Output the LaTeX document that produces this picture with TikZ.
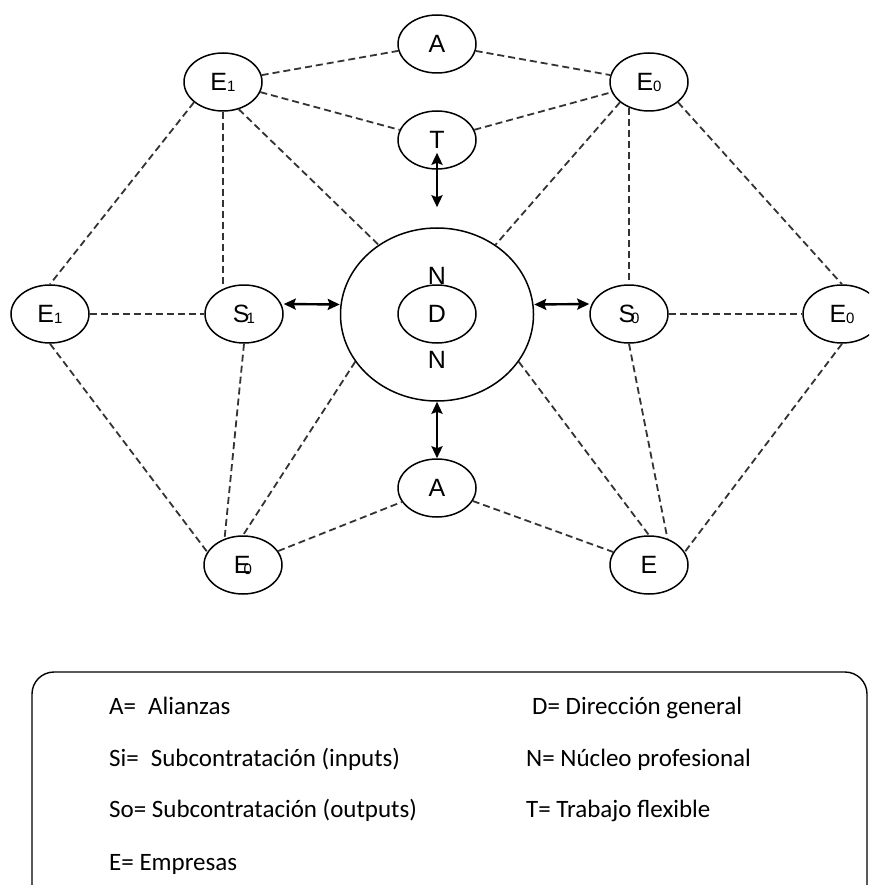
\documentclass[tikz,border=0pt]{standalone}
\usepackage{fontspec}
\setmainfont{Liberation Sans}
\newfontfamily\legendfont{Carlito}
\usetikzlibrary{shapes.geometric,arrows.meta}

% small index digit set on the baseline, pulled against its letter
\newcommand\lowidx[2][0pt]{\kern#1{\fontsize{15}{15}\selectfont\raisebox{-1pt}{#2}}}

\begin{document}
\begin{tikzpicture}[x=1pt,y=-1pt,
  bubble/.style={draw, ellipse, line width=1.5pt, minimum width=78pt,
    minimum height=58pt, inner sep=0pt, font=\fontsize{25}{25}\selectfont},
  label/.style={inner sep=0pt, font=\fontsize{25}{25}\selectfont},
  link/.style={line width=1.8pt, black!80, dash pattern=on 7pt off 4pt},
  tip/.tip={Stealth[length=12pt,width=11pt,inset=2pt]},
  arr/.style={line width=2.4pt, tip-tip},
  key/.style={anchor=base west, inner sep=0pt,
    font=\legendfont\fontsize{25}{25}\selectfont}
]
\useasboundingbox (0,0) rectangle (869,885);
\clip (0,0) rectangle (869,885);

% nodes of the network
\node[bubble] (At)  at (437,44)  {A};
\node[bubble] (E1t) at (223,82)  {E\lowidx{1}};
\node[bubble] (E0t) at (649,82)  {E\lowidx{0}};
\node[bubble] (T)   at (437,140) {T};
\node[bubble] (E1l) at (50,314)  {E\lowidx{1}};
\node[bubble] (S1)  at (244,314) {S\lowidx[-3pt]{1}};
\node[draw, ellipse, line width=1.5pt, minimum width=193pt,
      minimum height=173pt, inner sep=0pt] (circ) at (437,314.5) {};
\node[bubble] (D)   at (437,314) {D};
\node[label]  (Nt)  at (437,275.5) {N};
\node[label]  (Nb)  at (437,359.5) {N};
\node[bubble] (S0)  at (629,314) {S\lowidx[-4pt]{0}};
\node[bubble] (E0r) at (842,314) {E\lowidx{0}};
\node[bubble] (Ab)  at (437,488) {A};
\node[bubble] (E0b) at (243,565) {E\lowidx[-7pt]{0}};
\node[bubble] (Eb)  at (649,565) {E};

% dashed relations
\draw[link] (E1t) -- (At);
\draw[link] (E1t) -- (T);
\draw[link] (At) -- (E0t);
\draw[link] (T) -- (E0t);
\draw[link] (E1t.215) -- (E1l.north);
\draw[link] (E1t.south) -- (E1t.south |- S1.125);
\draw[link] (E1t.-60) -- (circ.130);
\draw[link] (E0t.215) -- (circ.50);
\draw[link] (S0.north |- E0t.235) -- (S0.north);
\draw[link] (E0t.-35) -- (E0r.north);
\draw[link] (E1l) -- (S1);
\draw[link] (S0) -- (E0r);
\draw[link] (E1l.south) -- (E0b.160);
\draw[link] (S1.south) -- (E0b.125);
\draw[link] (circ.210) -- (E0b.north);
\draw[link] (E0b) -- (Ab);
\draw[link] (Ab) -- (Eb);
\draw[link] (circ.-30) -- (Eb.north);
\draw[link] (S0.south) -- (Eb.55);
\draw[link] (E0r.south) -- (Eb.20);

% two-way exchanges with the core
\draw[arr] ([yshift=20pt]circ.north) -- ([yshift=17pt]T.south);
\draw[arr] (circ.south) -- (Ab.north);
\draw[arr] ([yshift=10pt]S1.east) -- ([yshift=10pt]circ.west);
\draw[arr] ([yshift=10pt]circ.east) -- ([yshift=10pt]S0.west);

% legend
\draw[line width=1.4pt, rounded corners=22pt] (32,672) rectangle (867,910);
\node[key] (kA) at (109,714) {A=\hspace{12pt}Alianzas};
\node[key] (kSi) at (109,766) {Si=\hspace{12pt}Subcontratación (inputs)};
\node[key] (kSo) at (109,817) {So= Subcontratación (outputs)};
\node[key] (kE) at (109,870) {E= Empresas};
\node[key] (kD) at (532,714) {D= Dirección general};
\node[key] (kN) at (526,766) {N= Núcleo profesional};
\node[key] (kT) at (526,817) {T= Trabajo flexible};
\end{tikzpicture}
\end{document}
